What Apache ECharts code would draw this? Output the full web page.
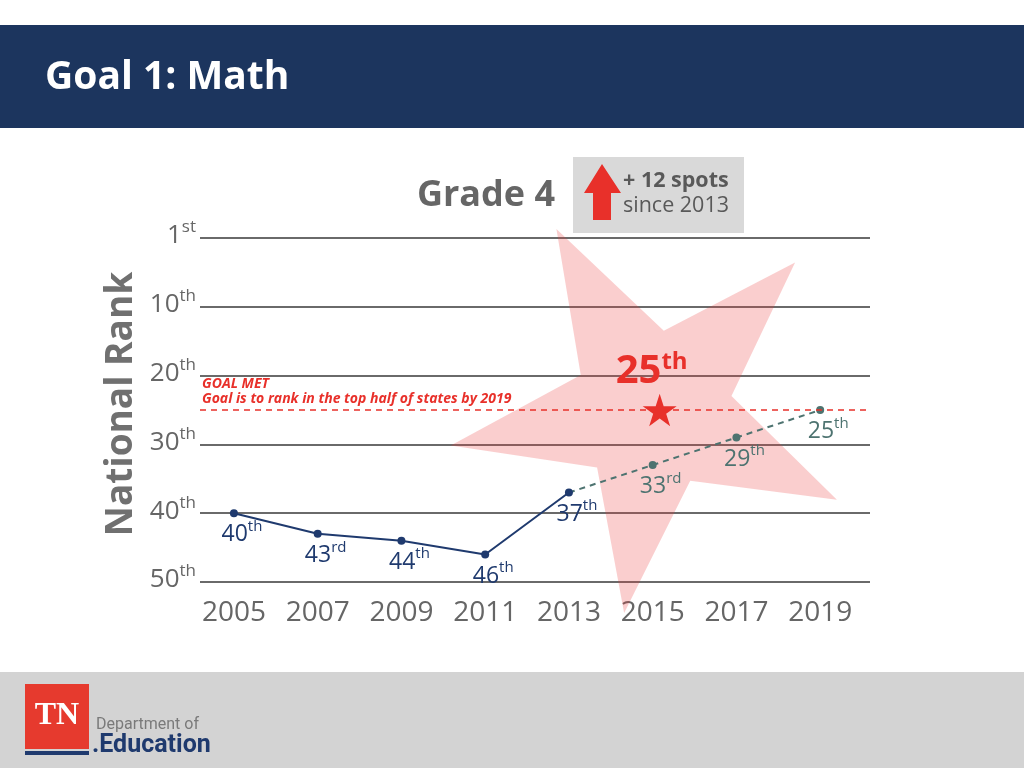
<!DOCTYPE html>
<html><head><meta charset="utf-8">
<script src="https://cdn.jsdelivr.net/npm/echarts@6/dist/echarts.min.js"></script>
<style>html,body{margin:0;padding:0;background:#fff}#c{width:1024px;height:768px}</style>
</head><body><div id="c"></div>
<script>
// ---- data ----
const years = [2005, 2007, 2009, 2011, 2013, 2015, 2017, 2019];
const actualYears = [2005, 2007, 2009, 2011, 2013];
const actualRanks = [40, 43, 44, 46, 37];
const projYears = [2013, 2015, 2017, 2019];
const projRanks = [37, 33, 29, 25];
const rankTicks = [0, 10, 20, 30, 40, 50];
const rankTickLabels = ['1', '10', '20', '30', '40', '50'];
const goalRank = 25;
const goalYear = 2015;
const goalText = ['GOAL MET', 'Goal is to rank in the top half of states by 2019'];
const headerTitle = 'Goal 1: Math';
const chartTitle = 'Grade 4';
const gainText = ['+ 12 spots', 'since 2013'];
const yAxisName = 'National Rank';

// ---- helpers ----
function suffix(n) {
  const t = n % 100;
  if (t >= 11 && t <= 13) return 'th';
  const u = n % 10;
  return u === 1 ? 'st' : u === 2 ? 'nd' : u === 3 ? 'rd' : 'th';
}
const NAVY = '#1f3a6e', TEAL = '#4d7370', RED = '#e8302a', GRAY = '#666666';
const FONT = '"Open Sans", "DejaVu Sans", sans-serif';
function starPath(R, r) {
  let d = '';
  for (let k = 0; k < 10; k++) {
    const a = k * Math.PI / 5;
    const rr = k % 2 === 0 ? R : r;
    const x = rr * Math.sin(a), y = -rr * Math.cos(a);
    d += (k === 0 ? 'M' : 'L') + x.toFixed(2) + ' ' + y.toFixed(2) + ' ';
  }
  return 'path://' + d + 'Z';
}
function labelRich(color, big, small) {
  return {
    n: {fontSize: big, fontFamily: FONT, color: color, lineHeight: big + 4, verticalAlign: 'bottom'},
    s: {fontSize: small, fontFamily: FONT, color: color, lineHeight: small + 7, verticalAlign: 'top'}
  };
}

const chart = echarts.init(document.getElementById('c'), null, {renderer: 'canvas'});
const option = {
  animation: false,
  backgroundColor: '#ffffff',
  grid: {left: 200, right: 154, top: 238, height: 344, containLabel: false},
  xAxis: {
    type: 'value', min: 2004.19, max: 2020.19,
    splitLine: {show: false}, axisLine: {show: false}, axisTick: {show: false},
    axisLabel: {customValues: years, formatter: v => String(v), fontSize: 28, color: GRAY, fontFamily: FONT, margin: 17}
  },
  yAxis: {
    type: 'value', inverse: true, min: 0, max: 50, interval: 10,
    axisLine: {show: false}, axisTick: {show: false},
    splitLine: {lineStyle: {color: '#6a6a6a', width: 2}},
    axisLabel: {
      margin: 4, padding: [0, 0, 8, 0],
      formatter: v => {
        const i = rankTicks.indexOf(v);
        const n = parseInt(rankTickLabels[i], 10);
        return '{n|' + rankTickLabels[i] + '}{s|' + suffix(n) + '}';
      },
      rich: labelRich(GRAY, 26, 17)
    }
  },
  graphic: [
    {type: 'rect', shape: {x: 0, y: 25, width: 1024, height: 103}, style: {fill: '#1c355e'}, z: 0},
    {type: 'text', x: 45, y: 78, style: {text: headerTitle, fill: '#ffffff', fontSize: 39, fontWeight: 'bold', fontFamily: FONT, verticalAlign: 'middle'}},
    {type: 'text', x: 486, y: 196, style: {text: chartTitle, fill: GRAY, fontSize: 36, fontWeight: 'bold', fontFamily: FONT, align: 'center', verticalAlign: 'middle'}},
    {type: 'rect', shape: {x: 573, y: 157, width: 171, height: 76}, style: {fill: '#d9d9d9'}},
    {type: 'polygon', shape: {points: [[602, 164], [621, 193], [611, 193], [611, 220], [593, 220], [593, 193], [584, 193]]}, style: {fill: RED}},
    {type: 'text', x: 623, y: 181, style: {text: gainText[0], fill: '#595959', fontSize: 21.5, fontWeight: 'bold', fontFamily: FONT, verticalAlign: 'middle'}},
    {type: 'text', x: 623, y: 206, style: {text: gainText[1], fill: '#595959', fontSize: 21.5, fontFamily: FONT, verticalAlign: 'middle'}},
    {type: 'text', x: 121, y: 404, rotation: Math.PI / 2, style: {text: yAxisName, fill: '#707070', fontSize: 37, fontWeight: 'bold', fontFamily: FONT, align: 'center', verticalAlign: 'middle'}},
    {type: 'rect', shape: {x: 0, y: 672, width: 1024, height: 96}, style: {fill: '#d3d3d3'}},
    {type: 'rect', shape: {x: 25, y: 684, width: 64, height: 65}, style: {fill: '#e63a2e'}},
    {type: 'rect', shape: {x: 25, y: 751, width: 64, height: 4}, style: {fill: '#1f3a6e'}},
    {type: 'text', x: 57, y: 716, style: {text: 'TN', fill: '#ffffff', fontSize: 32, fontWeight: 'bold', fontFamily: '"Liberation Serif", serif', align: 'center', verticalAlign: 'middle'}},
    {type: 'text', x: 96, y: 725, style: {text: 'Department of', fill: '#7a7a7a', fontSize: 16, fontFamily: 'Roboto, sans-serif', verticalAlign: 'middle'}},
    {type: 'text', x: 92, y: 746, style: {text: '.Education', fill: '#1f3a6e', fontSize: 25, fontWeight: 'bold', fontFamily: 'Roboto, sans-serif', verticalAlign: 'middle'}}
  ],
  series: [
    {
      type: 'custom', z: 1, silent: true,
      data: [[goalYear, goalRank]],
      renderItem: (params, api) => {
        const c = api.coord([api.value(0), api.value(1)]);
        const R = 205, r = 80, rot = -28 * Math.PI / 180;
        const pts = [];
        for (let k = 0; k < 10; k++) {
          const a = rot + k * Math.PI / 5;
          const rr = k % 2 === 0 ? R : r;
          pts.push([c[0] + rr * Math.sin(a), c[1] - rr * Math.cos(a)]);
        }
        return {type: 'polygon', shape: {points: pts}, style: {fill: 'rgba(235,60,60,0.25)'}};
      }
    },
    {
      type: 'line', z: 4,
      data: actualYears.map((y, i) => [y, actualRanks[i]]),
      lineStyle: {color: NAVY, width: 2},
      itemStyle: {color: NAVY},
      symbol: 'circle', symbolSize: 8,
      label: {
        show: true, position: 'bottom', distance: 2, offset: [8, 0],
        formatter: p => '{n|' + p.value[1] + '}{s|' + suffix(p.value[1]) + '}',
        rich: labelRich(NAVY, 23, 15)
      },
      markLine: {
        silent: true, symbol: ['none', 'none'],
        lineStyle: {color: RED, type: [6, 5], width: 1.5},
        label: {
          position: 'insideStartTop', distance: [2, 3],
          formatter: goalText.join('\n'),
          color: RED, fontStyle: 'italic', fontWeight: 'bold', fontSize: 14, lineHeight: 15, fontFamily: FONT
        },
        data: [{yAxis: goalRank}]
      }
    },
    {
      type: 'line', z: 3,
      data: projYears.map((y, i) => ({value: [y, projRanks[i]], symbolSize: i === 0 ? 0 : 8, label: {show: i !== 0}})),
      lineStyle: {color: TEAL, width: 2, type: [6, 5]},
      itemStyle: {color: TEAL},
      symbol: 'circle',
      label: {
        show: true, position: 'bottom', distance: 2, offset: [8, 0],
        formatter: p => '{n|' + p.value[1] + '}{s|' + suffix(p.value[1]) + '}',
        rich: labelRich(TEAL, 23, 15)
      }
    },
    {
      type: 'scatter', z: 5,
      data: [[goalYear, goalRank]],
      symbol: starPath(100, 38.2), symbolKeepAspect: true, symbolSize: 34, symbolOffset: [7, 0],
      itemStyle: {color: RED, opacity: 1},
      label: {
        show: true, position: 'top', distance: 2, offset: [-8, 0],
        formatter: p => '{n|' + p.value[1] + '}{s|' + suffix(p.value[1]) + '}',
        rich: {
          n: {fontSize: 40, fontWeight: 'bold', fontFamily: FONT, color: RED, lineHeight: 42, verticalAlign: 'bottom'},
          s: {fontSize: 24, fontWeight: 'bold', fontFamily: FONT, color: RED, lineHeight: 32, verticalAlign: 'top'}
        }
      }
    }
  ]
};
chart.setOption(option);
</script>
</body></html>
